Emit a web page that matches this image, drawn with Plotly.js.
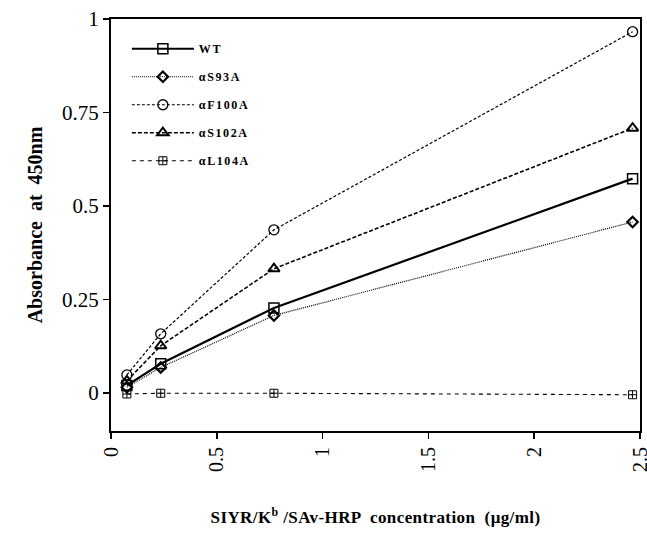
<!DOCTYPE html>
<html>
<head>
<meta charset="utf-8">
<script src="https://cdn.plot.ly/plotly-3.0.1.min.js"></script>
<style>
html,body{margin:0;padding:0;background:#fff;overflow:hidden;}
#chart{width:647px;height:537px;}
.legendtext{letter-spacing:1.6px;}
.g-xtitle text{letter-spacing:0.4px;}
</style>
</head>
<body>
<div id="chart"></div>
<script>
// concentrations (µg/ml)
var concentration = [0.075, 0.235, 0.77, 2.465];
var seriesNames = ["WT", "αS93A", "αF100A", "αS102A", "αL104A"];
var wt     = [0.020, 0.078, 0.227, 0.573];
var aS93A  = [0.015, 0.068, 0.207, 0.457];
var aF100A = [0.048, 0.158, 0.436, 0.966];
var aS102A = [0.032, 0.126, 0.332, 0.708];
var aL104A = [-0.003, -0.001, -0.001, -0.005];
var xTickVals = [0, 0.5, 1, 1.5, 2, 2.5];
var xTickText = ["0", "0.5", "1", "1.5", "2", "2.5"];
var yTickVals = [0, 0.25, 0.5, 0.75, 1];
var yTickText = ["0", "0.25", "0.5", "0.75", "1"];

var seriesValues = [wt, aS93A, aF100A, aS102A, aL104A];
var styles = [
  {dash: "solid", width: 2.2, symbol: "square-open", size: 10, mlw: 1.5},
  {dash: "1px,1px", width: 1.2, symbol: "diamond-open", size: 8, mlw: 2.2},
  {dash: "3px,2px", width: 1.2, symbol: "circle-open", size: 10, mlw: 1.3},
  {dash: "4px,2px", width: 1.6, symbol: "triangle-up-open", size: 10, mlw: 2},
  {dash: "4px,4px", width: 1.1, symbol: "square-cross-open", size: 8, mlw: 1}
];
var traces = seriesNames.map(function (n, i) {
  var s = styles[i];
  return {
    type: "scatter", mode: "lines+markers", name: n,
    x: concentration, y: seriesValues[i], legendgroup: "g" + i,
    line: {color: "#000", width: s.width, dash: s.dash},
    marker: {symbol: s.symbol, size: s.size, color: "#000", line: {color: "#000", width: s.mlw}}
  };
});

var serif = "Liberation Serif, Times New Roman, serif";
var pad = "\u00a0\u00a0\u00a0\u00a0\u00a0\u00a0\u00a0\u00a0\u00a0\u00a0";
var layout = {
  width: 647, height: 537,
  margin: {l: 111, r: 7, t: 19, b: 106},
  paper_bgcolor: "#fff", plot_bgcolor: "#fff",
  showlegend: true,
  legend: {
    x: 0.03, y: 0.963, xanchor: "left", yanchor: "top",
    font: {family: serif, size: 12, color: "#000", weight: "bold"},
    tracegroupgap: 9, itemwidth: 62, bgcolor: "rgba(0,0,0,0)", borderwidth: 0
  },
  xaxis: {
    range: [0, 2.5], tickvals: xTickVals, ticktext: xTickText, tickangle: -90,
    ticklabeloverflow: "allow",
    ticks: "outside", ticklen: 6, tickwidth: 1.5, tickcolor: "#000",
    showline: true, linecolor: "#000", linewidth: 2, mirror: true,
    showgrid: false, zeroline: false,
    tickfont: {family: serif, size: 20, color: "#000"},
    title: {text: pad + "SIYR/K<sup>b</sup> /SAv-HRP  concentration  (μg/ml)", standoff: 40,
            font: {family: serif, size: 17, color: "#000", weight: "bold"}}
  },
  yaxis: {
    range: [-0.102, 1], tickvals: yTickVals, ticktext: yTickText,
    ticks: "outside", ticklen: 6, tickwidth: 1.5, tickcolor: "#000",
    showline: true, linecolor: "#000", linewidth: 2, mirror: true,
    showgrid: false, zeroline: false,
    tickfont: {family: serif, size: 21, color: "#000"},
    title: {text: "Absorbance  at  450nm", standoff: 14,
            font: {family: serif, size: 20, color: "#000", weight: "bold"}}
  }
};
Plotly.newPlot("chart", traces, layout, {displayModeBar: false, staticPlot: true});
</script>
</body>
</html>
